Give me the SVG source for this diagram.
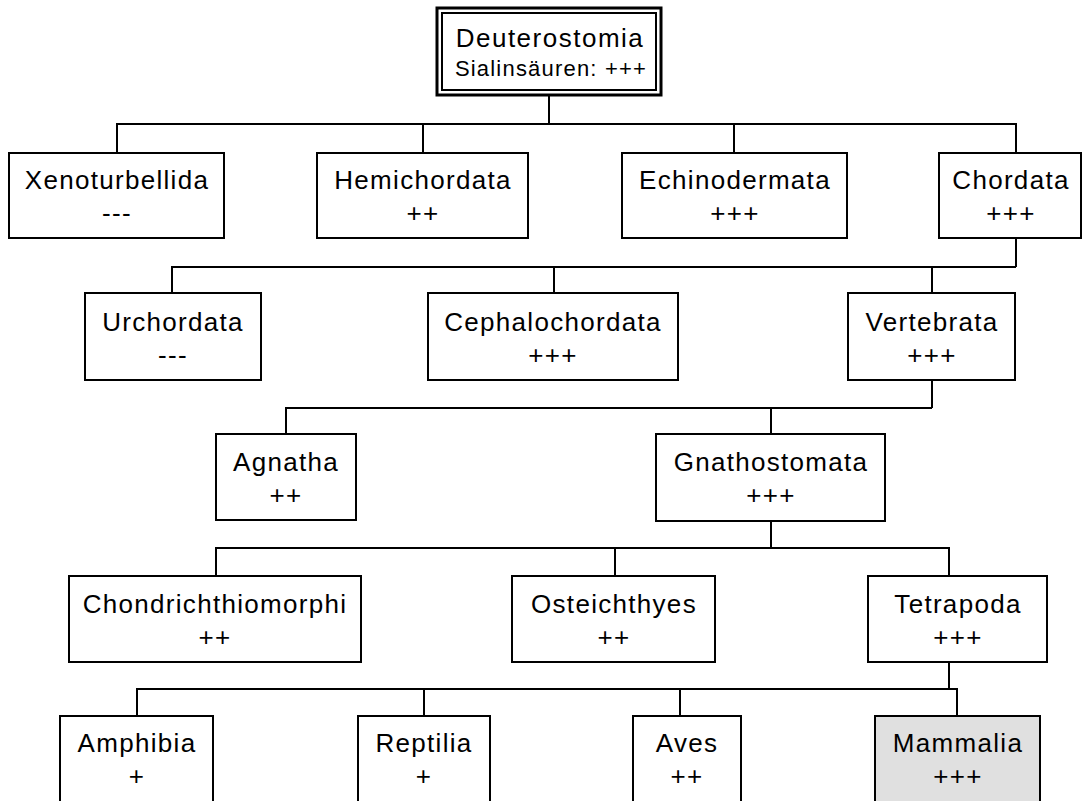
<svg xmlns="http://www.w3.org/2000/svg" width="1083" height="801" viewBox="0 0 1083 801">
<style>
.box{fill:#fff;stroke:#000;stroke-width:2}
.hl{fill:#e0e0e0}
.c{fill:none;stroke:#000;stroke-width:2}
text{font-family:"Liberation Sans",Arial,sans-serif;font-size:26px;letter-spacing:1.3px;text-anchor:middle;fill:#000}
.sub{font-size:22px;letter-spacing:1.2px}
.big{letter-spacing:1.5px}
</style>
<rect width="1083" height="801" fill="#fff"/>
<g id="connectors" class="c">
<path d="M549,95V124M117,153V124H1016V153M423,124V153M734,124V153"/>
<path d="M1016,238V267M172,293V267H1016M554,267V293M932,267V293"/>
<path d="M932,380V408M286,434V408H932M771,408V434"/>
<path d="M771,521V548M216,576V548H949V576M615,548V576"/>
<path d="M949,662V689M137,716V689H957V716M424,689V716M680,689V716"/>
</g>
<g id="deuterostomia">
<rect class="box" x="437" y="8" width="224" height="87" style="stroke-width:3"/>
<rect class="box" x="442" y="13" width="214" height="77"/>
<text class="big" x="550" y="47">Deuterostomia</text>
<text class="sub" x="551" y="76">Sialinsäuren: +++</text>
</g>
<g id="xenoturbellida"><rect class="box" x="9" y="153" width="215" height="85"/><text x="117" y="189">Xenoturbellida</text><text x="117" y="222">---</text></g>
<g id="hemichordata"><rect class="box" x="317" y="153" width="211" height="85"/><text x="423" y="189">Hemichordata</text><text x="423" y="222">++</text></g>
<g id="echinodermata"><rect class="box" x="622" y="153" width="225" height="85"/><text x="735" y="189">Echinodermata</text><text x="735" y="222">+++</text></g>
<g id="chordata"><rect class="box" x="939" y="153" width="142" height="85"/><text x="1011" y="189">Chordata</text><text x="1011" y="222">+++</text></g>
<g id="urchordata"><rect class="box" x="85" y="293" width="176" height="87"/><text x="173" y="331">Urchordata</text><text x="173" y="364">---</text></g>
<g id="cephalochordata"><rect class="box" x="428" y="293" width="250" height="87"/><text x="553" y="331">Cephalochordata</text><text x="553" y="364">+++</text></g>
<g id="vertebrata"><rect class="box" x="848" y="293" width="167" height="87"/><text x="932" y="331">Vertebrata</text><text x="932" y="364">+++</text></g>
<g id="agnatha"><rect class="box" x="216" y="434" width="140" height="86"/><text x="286" y="471">Agnatha</text><text x="286" y="504">++</text></g>
<g id="gnathostomata"><rect class="box" x="656" y="434" width="229" height="87"/><text x="771" y="471">Gnathostomata</text><text x="771" y="504">+++</text></g>
<g id="chondrichthiomorphi"><rect class="box" x="69" y="576" width="292" height="86"/><text x="215" y="613">Chondrichthiomorphi</text><text x="215" y="646">++</text></g>
<g id="osteichthyes"><rect class="box" x="512" y="576" width="203" height="86"/><text x="614" y="613">Osteichthyes</text><text x="614" y="646">++</text></g>
<g id="tetrapoda"><rect class="box" x="868" y="576" width="179" height="86"/><text x="958" y="613">Tetrapoda</text><text x="958" y="646">+++</text></g>
<g id="amphibia"><rect class="box" x="60" y="716" width="153" height="100"/><text x="137" y="752">Amphibia</text><text x="137" y="785">+</text></g>
<g id="reptilia"><rect class="box" x="358" y="716" width="132" height="100"/><text x="424" y="752">Reptilia</text><text x="424" y="785">+</text></g>
<g id="aves"><rect class="box" x="633" y="716" width="108" height="100"/><text x="687" y="752">Aves</text><text x="687" y="785">++</text></g>
<g id="mammalia"><rect class="box hl" x="875" y="716" width="165" height="100"/><text x="958" y="752">Mammalia</text><text x="958" y="785">+++</text></g>
</svg>
